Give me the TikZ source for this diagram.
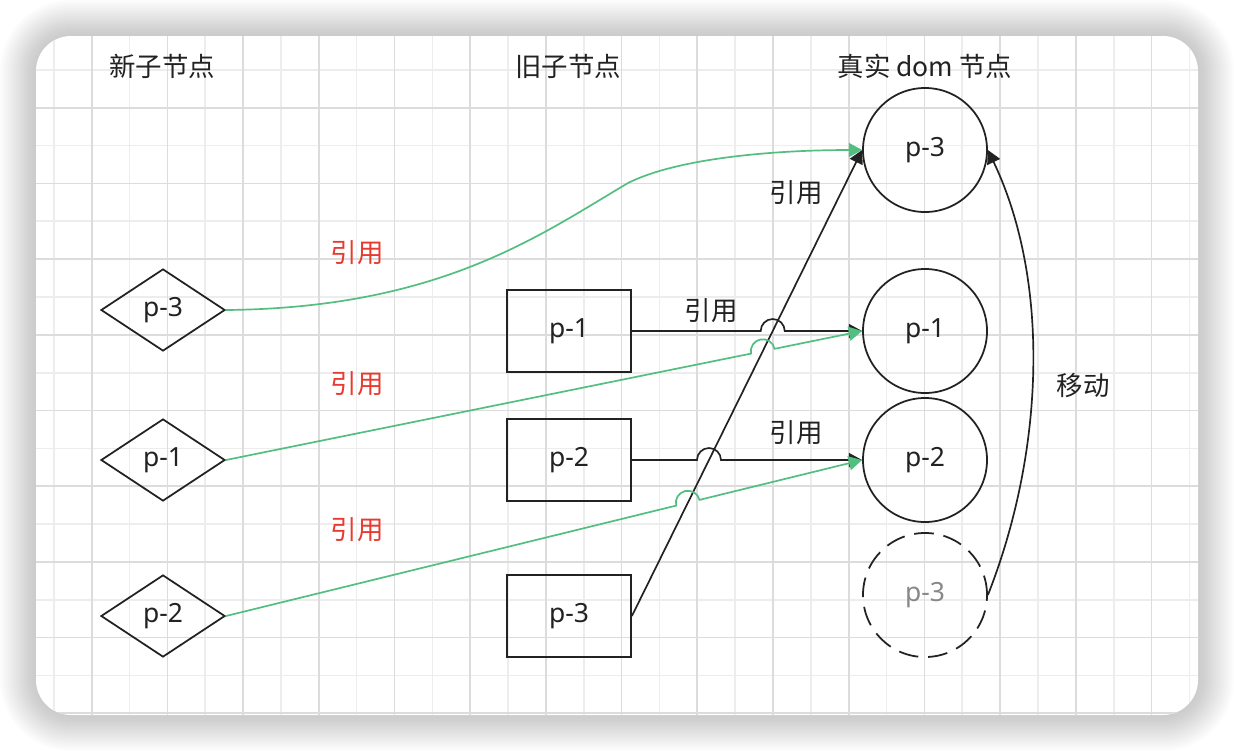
\documentclass[tikz,border=0pt]{standalone}
\usepackage{fontspec}
\setmainfont{Noto Sans}
\newfontfamily\cjk{Noto Sans CJK SC}
\usetikzlibrary{shapes.geometric,arrows.meta,calc}
\definecolor{ink}{RGB}{34,34,34}
\definecolor{refgreen}{RGB}{82,190,128}
\definecolor{refred}{RGB}{232,58,46}
\definecolor{gridmaj}{RGB}{220,220,220}
\definecolor{gridmin}{RGB}{237,237,237}
\definecolor{ghostgray}{RGB}{136,136,136}

\begin{document}
\begin{tikzpicture}[
  x=0.025cm, y=0.025cm,
  every node/.style={font=\fontsize{18.8}{22}\selectfont, text=ink},
  vnode/.style={diamond, draw=ink, line width=1.25pt, minimum width=3.1cm, minimum height=2.05cm, inner sep=0pt},
  onode/.style={rectangle, draw=ink, line width=1.25pt, minimum width=3.1cm, minimum height=2.05cm, inner sep=0pt},
  dnode/.style={circle, draw=ink, line width=1.25pt, minimum size=3.1cm, inner sep=0pt},
  ghost/.style={dnode, dash pattern=on 14pt off 7pt, text=ghostgray},
  lbl/.style={font=\cjk\fontsize{18.8}{22}\selectfont},
  redlbl/.style={lbl, text=refred},
  link/.style={draw=ink, line width=1.2pt, -{Triangle[length=9.5pt, width=10pt]}},
  glink/.style={link, draw=refgreen}
]
\useasboundingbox (0,0) rectangle (1234,-752);
\foreach \k in {1,...,18}
  \fill[black, opacity=0.01, rounded corners={(35+2*\k)*0.025cm}] ({36-2*\k},{-36+2*\k}) rectangle ({1198+2*\k},{-715-2*\k});
\fill[white, rounded corners=0.875cm] (36,-36) rectangle (1198,-715);
\begin{scope}
  \clip[rounded corners=0.875cm] (36,-36) rectangle (1198,-715);
  \foreach \i in {0,...,30} \draw[gridmin, line width=1.2pt] ({53.85+37.85*\i},-36) -- ++(0,-679);
  \foreach \j in {0,...,17} \draw[gridmin, line width=1.2pt] (36,{-69.85-37.85*\j}) -- ++(1162,0);
  \foreach \i in {0,...,15} \draw[gridmaj, line width=1.2pt] ({91.7+75.7*\i},-36) -- ++(0,-679);
  \foreach \j in {0,...,8} \draw[gridmaj, line width=1.2pt] (36,{-107.7-75.7*\j}) -- ++(1162,0);
\end{scope}

\node[lbl] (hnew) at (162,-66) {新子节点};
\node[lbl] (hold) at (568,-66) {旧子节点};
\node[lbl] (hreal) at (925,-66) {真实 dom 节点};

\node[vnode] (n3) at (163,-310) {p-3};
\node[vnode] (n1) at (163,-460) {p-1};
\node[vnode] (n2) at (163,-616) {p-2};
\node[onode] (o1) at (569,-331) {p-1};
\node[onode] (o2) at (569,-460) {p-2};
\node[onode] (o3) at (569,-616) {p-3};
\node[dnode] (r3) at (925,-150) {p-3};
\node[dnode] (r1) at (925,-331) {p-1};
\node[dnode] (r2) at (925,-460) {p-2};
\node[ghost] (rg) at (925,-595) {p-3};

\node[redlbl] (e1) at (357,-253) {引用};
\node[redlbl] (e2) at (357,-384) {引用};
\node[redlbl] (e3) at (357,-530) {引用};
\node[lbl] (k3) at (796,-193) {引用};
\node[lbl] (k1) at (711,-311) {引用};
\node[lbl] (k2) at (796,-433) {引用};
\node[lbl] (mv) at (1083,-385) {移动};

\coordinate (j1) at (intersection of o1.east--r1.west and o3.east--r3.west);
\coordinate (j2) at (intersection of o2.east--r2.west and o3.east--r3.west);
\coordinate (g1) at (intersection of n1.east--r1.west and o3.east--r3.west);
\coordinate (g2) at (intersection of n2.east--r2.west and o3.east--r3.west);

\draw[link] (o3.east) -- (r3.west);
\draw[link] (o1.east) -- ($(j1)+(-12,0)$) arc[start angle=180, end angle=0, radius=0.3cm] -- (r1.west);
\draw[link] (o2.east) -- ($(j2)+(-12,0)$) arc[start angle=180, end angle=0, radius=0.3cm] -- (r2.west);
\draw[link] (rg.east) .. controls (1045,-450) and (1050,-280) .. (r3.east);

\draw[glink] (n3.east) .. controls (440,-308) and (540,-235) .. (628,-183) .. controls (680,-157) and (780,-150) .. (r3.west);
\draw[glink] let \p1=($(r1.west)-(n1.east)$), \n1={atan2(\y1,\x1)} in
  (n1.east) -- ($(g1)!0.3cm!(n1.east)$) arc[start angle=180+\n1, end angle=\n1, radius=0.3cm] -- (r1.west);
\draw[glink] let \p1=($(r2.west)-(n2.east)$), \n1={atan2(\y1,\x1)} in
  (n2.east) -- ($(g2)!0.3cm!(n2.east)$) arc[start angle=180+\n1, end angle=\n1, radius=0.3cm] -- (r2.west);
\end{tikzpicture}
\end{document}
